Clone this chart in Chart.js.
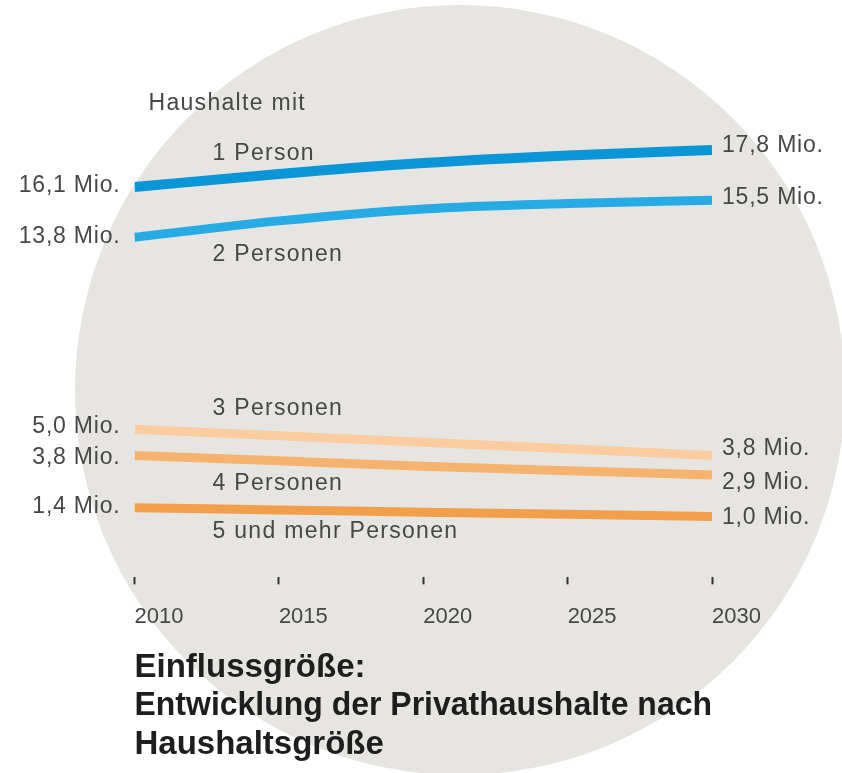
<!DOCTYPE html>
<html><head><meta charset="utf-8">
<script src="https://cdn.jsdelivr.net/npm/chart.js@4.4.0/dist/chart.umd.min.js"></script>
<style>html,body{margin:0;padding:0;background:#fff;}#wrap{width:842px;height:773px;position:relative;}</style>
</head><body><div id="wrap"><canvas id="c" width="842" height="773"></canvas></div>
<script>
// ---- data ----
const years = [2010, 2015, 2020, 2025, 2030];
const seriesNames = ['1 Person', '2 Personen', '3 Personen', '4 Personen', '5 und mehr Personen'];
const onePerson = [16.1, 16.7, 17.2, 17.55, 17.8];
const twoPersons = [13.8, 14.55, 15.1, 15.35, 15.5];
const threePersons = [5.0, 4.7, 4.4, 4.1, 3.8];
const fourPersons = [3.8, 3.55, 3.3, 3.1, 2.9];
const fivePlus = [1.4, 1.3, 1.2, 1.1, 1.0];
const unitSuffix = ' Mio.';
const subtitle = 'Haushalte mit';
const titleLines = ['Einflussgröße:', 'Entwicklung der Privathaushalte nach', 'Haushaltsgröße'];

// ---- styles ----
const seriesValues = [onePerson, twoPersons, threePersons, fourPersons, fivePlus];
const colors = ['#0a96d6', '#27abe4', '#fbcc9f', '#f6b36f', '#f19f4b'];
const widths = [10, 9, 9, 9, 9];
const startLabelDy = [-1, -1, -3, 2, -1.5];
const endLabelDy = [-4, -3, -7, 8, 1.5];
const nameLabelDx = [78, 78, 78, 78, 78];
const nameLabelDy = [-33, 17, -21, 28, 24];
const FONT = '"Liberation Sans", Arial, sans-serif';
const TEXT = '#474747';

const fmt = v => v.toFixed(1).replace('.', ',') + unitSuffix;

const bgCircle = {
  id: 'bgCircle',
  beforeDraw(chart) {
    const ctx = chart.ctx;
    ctx.save();
    ctx.fillStyle = '#e7e5e1';
    ctx.beginPath();
    ctx.arc(460, 390, 385, 0, Math.PI * 2);
    ctx.fill();
    ctx.restore();
  }
};

const labels = {
  id: 'labels',
  afterDatasetsDraw(chart) {
    const ctx = chart.ctx;
    const area = chart.chartArea;
    ctx.save();
    ctx.fillStyle = TEXT;
    ctx.textBaseline = 'middle';
    ctx.font = '23px ' + FONT;
    try { ctx.letterSpacing = '1.3px'; } catch (e) {}
    ctx.textAlign = 'left';
    ctx.fillText(subtitle, area.left + 14, area.top + 2);
    chart.data.datasets.forEach((ds, i) => {
      const meta = chart.getDatasetMeta(i);
      const p0 = meta.data[0];
      ctx.fillText(seriesNames[i], p0.x + nameLabelDx[i], p0.y + nameLabelDy[i]);
    });
    ctx.font = '23px ' + FONT;
    try { ctx.letterSpacing = '0.8px'; } catch (e) {}
    chart.data.datasets.forEach((ds, i) => {
      const meta = chart.getDatasetMeta(i);
      const p0 = meta.data[0], p1 = meta.data[meta.data.length - 1];
      const vals = seriesValues[i];
      ctx.textAlign = 'right';
      ctx.fillText(fmt(vals[0]), p0.x - 14, p0.y + startLabelDy[i]);
      ctx.textAlign = 'left';
      ctx.fillText(fmt(vals[vals.length - 1]), p1.x + 10, p1.y + endLabelDy[i]);
    });
    try { ctx.letterSpacing = '0px'; } catch (e) {}
    ctx.restore();
  }
};

new Chart(document.getElementById('c'), {
  type: 'line',
  data: {
    datasets: seriesValues.map((vals, i) => ({
      label: seriesNames[i],
      data: vals.map((v, j) => ({ x: years[j], y: v })),
      borderColor: colors[i],
      borderWidth: widths[i],
      borderCapStyle: 'butt',
      pointRadius: 0,
      fill: false,
      cubicInterpolationMode: 'monotone'
    }))
  },
  options: {
    responsive: false,
    animation: false,
    devicePixelRatio: 1,
    layout: { padding: { left: 134.5, right: 130, top: 102, bottom: 9 } },
    plugins: {
      legend: { display: false },
      tooltip: { enabled: false },
      title: {
        display: true,
        position: 'bottom',
        align: 'start',
        text: titleLines,
        color: '#1e1e1e',
        font: { family: FONT, size: 33, weight: 'bold', lineHeight: 1.164 },
        padding: { top: 0, bottom: 0 }
      }
    },
    scales: {
      x: {
        type: 'linear',
        min: years[0],
        max: years[years.length - 1],
        border: { display: false },
        grid: { display: true, drawOnChartArea: false, drawTicks: true, tickLength: 7, tickWidth: 2, tickColor: '#333' },
        afterBuildTicks: s => { s.ticks = years.map(v => ({ value: v })); },
        ticks: {
          align: 'start',
          padding: 19,
          color: TEXT,
          font: { family: FONT, size: 22, lineHeight: 1.2 },
          callback: v => String(v)
        }
      },
      y: { type: 'linear', display: false, min: -1.79, max: 20 }
    }
  },
  plugins: [bgCircle, labels]
});
</script></body></html>
